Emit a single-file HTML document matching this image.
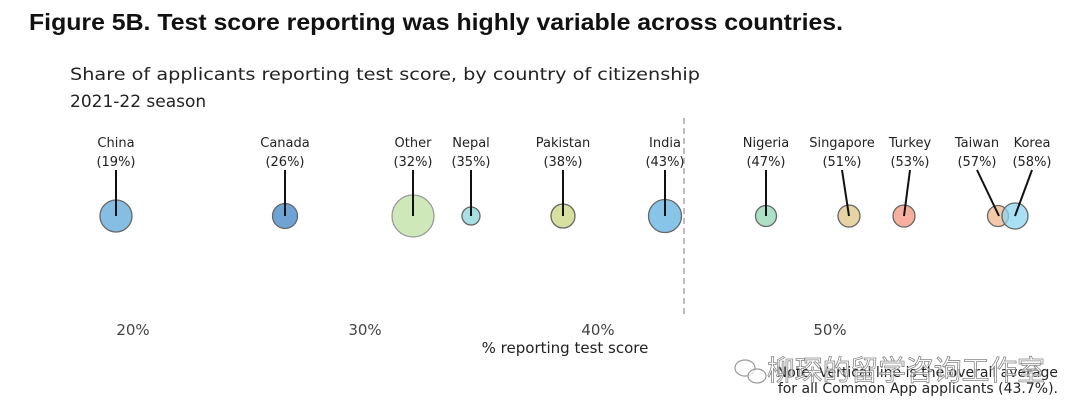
<!DOCTYPE html>
<html><head><meta charset="utf-8"><style>
html,body{margin:0;padding:0;background:#fff;width:1080px;height:419px;overflow:hidden}
</style></head><body>
<svg width="1080" height="419" xmlns="http://www.w3.org/2000/svg">
<text x="29" y="30" font-family="Liberation Sans, sans-serif" font-weight="bold" font-size="23" fill="#111" textLength="814" lengthAdjust="spacingAndGlyphs">Figure 5B. Test score reporting was highly variable across countries.</text>
<g font-family="DejaVu Sans, sans-serif" fill="#222">
<text x="70" y="80" font-size="17" textLength="630" lengthAdjust="spacingAndGlyphs">Share of applicants reporting test score, by country of citizenship</text>
<text x="70" y="107" font-size="17">2021-22 season</text>
</g>
<line x1="684" y1="118" x2="684" y2="318" stroke="#aaa" stroke-width="1.5" stroke-dasharray="6,4"/>
<g stroke="#666" stroke-width="1.3">
<circle cx="116" cy="216" r="16" fill="#85bde3"/>
<circle cx="285" cy="216" r="12.5" fill="#6fa3d6"/>
<circle cx="413" cy="216" r="21" fill="#cfe8b9" stroke="#999"/>
<circle cx="471" cy="216" r="9" fill="#a6e0e3"/>
<circle cx="563" cy="216" r="12" fill="#d8e0a0"/>
<circle cx="665" cy="216" r="16.5" fill="#87c4e8"/>
<circle cx="766" cy="216" r="10.5" fill="#aee0c6"/>
<circle cx="849" cy="216" r="11" fill="#e6d4a3"/>
<circle cx="904" cy="216" r="11" fill="#f7b0a0"/>
<circle cx="998" cy="216" r="10.5" fill="#f0c09a" fill-opacity="0.85"/>
<circle cx="1015" cy="216" r="13" fill="#8dd5ef" fill-opacity="0.75"/>
</g>
<g stroke="#111" stroke-width="2">
<line x1="116" y1="170" x2="116" y2="216"/>
<line x1="285" y1="170" x2="285" y2="216"/>
<line x1="413" y1="170" x2="413" y2="216"/>
<line x1="471" y1="170" x2="471" y2="216"/>
<line x1="563" y1="170" x2="563" y2="216"/>
<line x1="665" y1="170" x2="665" y2="216"/>
<line x1="766" y1="170" x2="766" y2="216"/>
<line x1="842" y1="170" x2="849" y2="216"/>
<line x1="910" y1="170" x2="904" y2="216"/>
<line x1="977" y1="170" x2="999" y2="216"/>
<line x1="1032" y1="170" x2="1015" y2="216"/>
</g>
<g font-family="DejaVu Sans, sans-serif" font-size="13" fill="#222" text-anchor="middle">
<text x="116" y="147">China</text><text x="116" y="166">(19%)</text>
<text x="285" y="147">Canada</text><text x="285" y="166">(26%)</text>
<text x="413" y="147">Other</text><text x="413" y="166">(32%)</text>
<text x="471" y="147">Nepal</text><text x="471" y="166">(35%)</text>
<text x="563" y="147">Pakistan</text><text x="563" y="166">(38%)</text>
<text x="665" y="147">India</text><text x="665" y="166">(43%)</text>
<text x="766" y="147">Nigeria</text><text x="766" y="166">(47%)</text>
<text x="842" y="147">Singapore</text><text x="842" y="166">(51%)</text>
<text x="910" y="147">Turkey</text><text x="910" y="166">(53%)</text>
<text x="977" y="147">Taiwan</text><text x="977" y="166">(57%)</text>
<text x="1032" y="147">Korea</text><text x="1032" y="166">(58%)</text>
</g>
<g font-family="DejaVu Sans, sans-serif" font-size="15" fill="#444" text-anchor="middle">
<text x="133" y="335">20%</text><text x="365" y="335">30%</text><text x="598" y="335">40%</text><text x="830" y="335">50%</text>
<text x="565" y="353" fill="#222">% reporting test score</text>
</g>
<g font-family="DejaVu Sans, sans-serif" font-size="14" fill="#222" text-anchor="end">
<text x="1058" y="377">Note: Vertical line is the overall average</text>
<text x="1058" y="393">for all Common App applicants (43.7%).</text>
</g>
<g fill="#fff" stroke="#999" stroke-width="1.2" fill-opacity="0.7">
<ellipse cx="745" cy="368" rx="10" ry="8"/>
<ellipse cx="757" cy="376" rx="9" ry="7"/>
</g>
<text x="767" y="380" font-family="Liberation Sans, Noto Sans CJK SC, sans-serif" font-size="28" fill="#fff" fill-opacity="0.6" stroke="#888" stroke-width="0.8" textLength="278" lengthAdjust="spacingAndGlyphs">柳琛的留学咨询工作室</text>
</svg>
</body></html>
